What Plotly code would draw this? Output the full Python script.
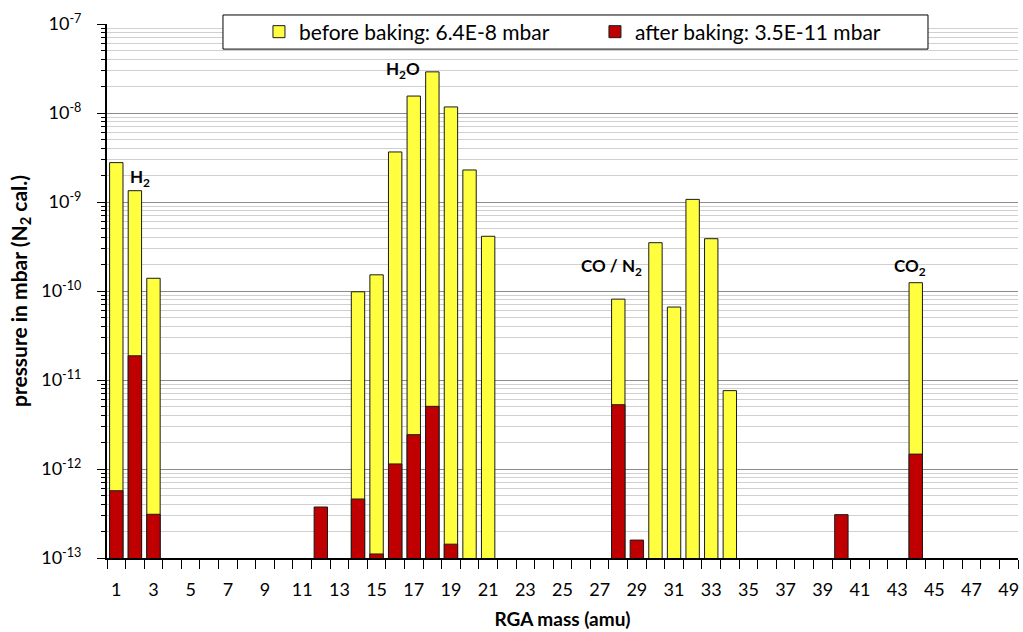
import plotly.graph_objects as go

# RGA mass numbers 1..49
masses = list(range(1, 50))

# partial pressures (mbar), missing = below the 1E-13 display limit
before_baking = {
    1: 2.77e-9, 2: 1.34e-9, 3: 1.39e-10,
    14: 9.8e-11, 15: 1.52e-10, 16: 3.65e-9, 17: 1.55e-8, 18: 2.9e-8,
    19: 1.17e-8, 20: 2.29e-9, 21: 4.12e-10,
    28: 8.1e-11, 30: 3.49e-10, 31: 6.6e-11, 32: 1.07e-9, 33: 3.87e-10,
    34: 7.6e-12, 44: 1.24e-10,
}
after_baking = {
    1: 5.7e-13, 2: 1.87e-11, 3: 3.1e-13, 12: 3.74e-13,
    14: 4.6e-13, 15: 1.11e-13, 16: 1.14e-12, 17: 2.43e-12, 18: 5.06e-12,
    19: 1.43e-13, 28: 5.28e-12, 29: 1.59e-13, 40: 3.07e-13, 44: 1.47e-12,
}

before_vals = [before_baking.get(m) for m in masses]
after_vals = [after_baking.get(m) for m in masses]

y_tick_vals = [1e-13, 1e-12, 1e-11, 1e-10, 1e-9, 1e-8, 1e-7]
y_tick_text = ["10<sup>-13</sup>", "10<sup>-12</sup>", "10<sup>-11</sup>",
               "10<sup>-10</sup>", "10<sup>-9</sup>", "10<sup>-8</sup>",
               "10<sup>-7</sup>"]
x_tick_vals = list(range(1, 50, 2))

# labels for the main peaks: (text, mass position, log10 pressure)
peak_labels = [
    ("H<sub>2</sub>", 2.3, -8.73),
    ("H<sub>2</sub>O", 16.4, -7.52),
    ("CO / N<sub>2</sub>", 27.63, -9.73),
    ("CO<sub>2</sub>", 43.7, -9.73),
]

FONT = "Lato, 'Open Sans', sans-serif"

fig = go.Figure()

fig.add_trace(go.Bar(
    x=masses, y=before_vals,
    name="before baking: 6.4E-8 mbar",
    marker=dict(color="#FFFF40", line=dict(color="#1a1a1a", width=1)),
    width=0.72,
))
fig.add_trace(go.Bar(
    x=masses, y=after_vals,
    name="after baking: 3.5E-11 mbar",
    marker=dict(color="#C00000", line=dict(color="#1a1a1a", width=1)),
    width=0.72,
))

for text, xm, ly in peak_labels:
    fig.add_annotation(
        x=xm, y=ly, text=f"<b>{text}</b>", showarrow=False,
        font=dict(size=17, color="black", family=FONT),
    )

# legend frame (drawn as a shape so it can be wider than the entries)
fig.add_shape(
    type="rect", xref="paper", yref="paper",
    x0=0.1273, x1=0.9012, y0=0.953, y1=1.0169,
    fillcolor="white", line=dict(color="black", width=1), layer="above",
)

# minor grid at 2..9 x 10^n
minor_y = [k * 10.0 ** e for e in range(-13, -7) for k in range(2, 10)]
boundaries = [m + 0.5 for m in range(0, 50)]

fig.update_layout(
    width=1023, height=632,
    margin=dict(l=107, r=5, t=24, b=74, autoexpand=False),
    plot_bgcolor="white",
    paper_bgcolor="white",
    barmode="overlay",
    font=dict(family=FONT, color="black", size=18),
    legend=dict(
        orientation="h",
        x=0.1668, xanchor="left",
        y=0.985, yanchor="middle",
        bgcolor="rgba(0,0,0,0)",
        borderwidth=0,
        font=dict(size=21),
        entrywidth=291,
        traceorder="normal",
    ),
    xaxis=dict(
        range=[0.5, 49.5],
        tickvals=x_tick_vals,
        ticks="",
        ticklabelstandoff=14,
        showgrid=False,
        showline=True, linecolor="black", linewidth=2,
        tickfont=dict(size=18),
        minor=dict(tickvals=boundaries, ticks="outside", ticklen=9,
                   tickcolor="black", tickwidth=1),
        title=dict(text="<b>RGA mass (amu)</b>", font=dict(size=19), standoff=14),
        zeroline=False,
        automargin=False,
    ),
    yaxis=dict(
        type="log",
        range=[-13, -7],
        tickvals=y_tick_vals,
        ticktext=y_tick_text,
        ticks="outside", ticklen=8, tickcolor="black",
        ticklabelstandoff=12,
        showgrid=True, gridcolor="#8c8c8c", gridwidth=1,
        showline=True, linecolor="black", linewidth=2,
        tickfont=dict(size=18),
        minor=dict(tickvals=minor_y, ticks="outside", ticklen=4,
                   tickcolor="black", showgrid=True, gridcolor="#d0d0d0",
                   gridwidth=1),
        title=dict(text="<b>pressure in mbar (N<sub>2</sub> cal.)</b>",
                   font=dict(size=21), standoff=8),
        zeroline=False,
        automargin=False,
    ),
)

# the page body has a default 8px margin; remove it so the figure sits at 0,0
fig.write_html("out.html", config={"displayModeBar": False},
               post_script="document.body.style.margin='0';")
